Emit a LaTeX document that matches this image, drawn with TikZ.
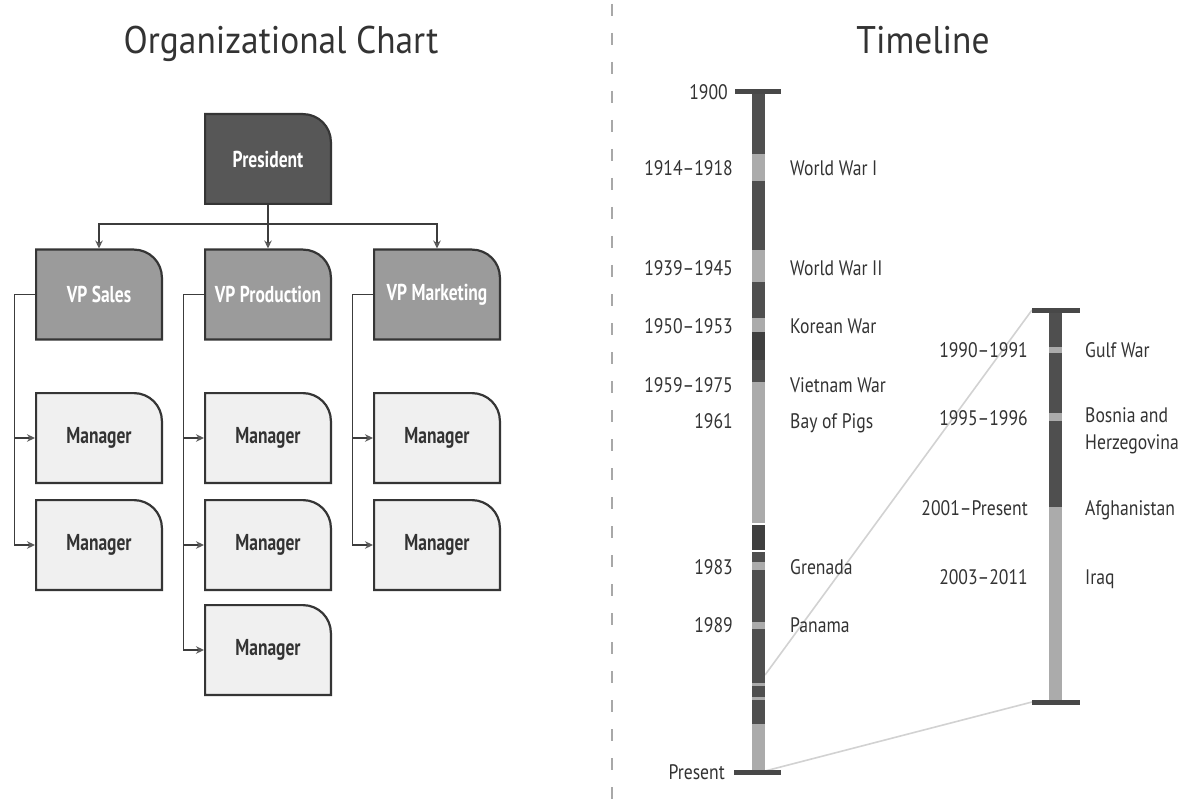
\documentclass[tikz,border=0pt]{standalone}
\usepackage{fontspec}
\newfontfamily\titlefont[FakeStretch=0.92]{PT Sans}
\newfontfamily\cardfont[FakeStretch=0.76]{PT Sans}
\newfontfamily\labelfont[FakeStretch=0.84]{PT Sans}
\usetikzlibrary{arrows.meta}

\definecolor{boxline}{HTML}{353535}
\definecolor{presgray}{HTML}{575757}
\definecolor{vpgray}{HTML}{9B9B9B}
\definecolor{mgrgray}{HTML}{F0F0F0}
\definecolor{inkgray}{HTML}{333333}
\definecolor{linkgray}{HTML}{3C3C3C}
\definecolor{tipgray}{HTML}{5A5A5A}
\definecolor{bardark}{HTML}{4F4F4F}
\definecolor{bardarker}{HTML}{3F3F3F}
\definecolor{barlight}{HTML}{ABABAB}
\definecolor{capgray}{HTML}{484848}
\definecolor{zoomgray}{HTML}{D2D2D2}
\definecolor{sepgray}{HTML}{A8A8A8}

\begin{document}
\begin{tikzpicture}[x=1pt, y=-1pt,
  card/.style={minimum width=128pt, minimum height=92pt, inner sep=0pt, outer sep=0pt,
    font=\cardfont\bfseries\fontsize{23}{26}\selectfont,
    path picture={\draw[draw=boxline, line width=2.2pt, fill=#1]
      ([shift={(1.1pt,1.1pt)}]path picture bounding box.south west)
      |- ([shift={(-29pt,-1.1pt)}]path picture bounding box.north east)
      arc[start angle=90, end angle=0, radius=27.9pt]
      -- ([shift={(-1.1pt,1.1pt)}]path picture bounding box.south east) -- cycle;}},
  pres/.style={card=presgray, text=white},
  vpbox/.style={card=vpgray, text=white},
  mgr/.style={card=mgrgray, text=inkgray},
  link/.style={draw=linkgray, line width=1.9pt,
    -{Stealth[length=8pt, width=7.5pt, color=tipgray]}},
  charttitle/.style={anchor=base, inner sep=0pt, text=inkgray,
    font=\titlefont\fontsize{38.5}{42}\selectfont},
  yearlbl/.style={anchor=east, inner sep=0pt, text height=14.5pt, text depth=0pt,
    text=inkgray, font=\labelfont\fontsize{21}{27}\selectfont},
  eventlbl/.style={yearlbl, anchor=west},
  barcap/.style={draw=capgray, line width=5pt},
  zoomline/.style={draw=zoomgray, line width=1.6pt}]
  \fill[white] (0,0) rectangle (1180,802);
  \useasboundingbox (0,0) rectangle (1180,802);

  % titles
  \node[charttitle] (orgtitle) at (281,54) {Organizational Chart};
  \node[charttitle] (timetitle) at (923,54) {Timeline};

  % separator
  \draw[sepgray, line width=2pt, dash pattern=on 12pt off 17pt] (612,4) -- (612,800);

  % org chart boxes
  \node[pres] (pres) at (268,159) {President};
  \node[vpbox] (vps) at (99,294.5) {VP Sales};
  \node[vpbox] (vpp) at (268,294.5) {VP Production};
  \node[vpbox] (vpm) at (437,294.5) {VP Marketing};
  \node[mgr] (sm1) at (99,438) {Manager};
  \node[mgr] (sm2) at (99,545) {Manager};
  \node[mgr] (pm1) at (268,438) {Manager};
  \node[mgr] (pm2) at (268,545) {Manager};
  \node[mgr] (pm3) at (268,650) {Manager};
  \node[mgr] (mm1) at (437,438) {Manager};
  \node[mgr] (mm2) at (437,545) {Manager};

  % org chart links
  \draw[link] (pres.south) -- ++(0,19) -| (vps.north);
  \draw[link] (pres.south) -- (vpp.north);
  \draw[link] (pres.south) -- ++(0,19) -| (vpm.north);
  \foreach \vp/\m in {vps/sm1, vps/sm2, vpp/pm1, vpp/pm2, vpp/pm3, vpm/mm1, vpm/mm2}
    \draw[link] (\vp.west) -- ++(-20.5,0) |- (\m.west);

  % zoom lines between the two bars
  \coordinate (mainzoom) at (765,675);
  \coordinate (mainend) at (765,771);
  \coordinate (subtop) at (1032,310);
  \coordinate (subend) at (1032,702);
  \draw[zoomline] (mainzoom) -- (subtop);
  \draw[zoomline] (mainend) -- (subend);

  % main bar, 1900 to present
  \foreach \a/\b/\c in {92/154/bardark, 154/181/barlight, 181/250/bardark, 250/282/barlight,
      282/318/bardark, 318/332/barlight, 332/360/bardarker, 360/382/bardark, 382/523/barlight,
      525/550/bardarker, 552/562/bardark, 562/570/barlight, 570/622/bardark, 622/629/barlight,
      629/683/bardark, 683/686/barlight, 686/697/bardark, 697/700/barlight, 700/724/bardark,
      724/772/barlight}
    \fill[\c] (752,\a) rectangle (765,\b);
  \draw[barcap] (735,92) -- (781,92);
  \draw[barcap] (734,772) -- (781,772);

  % detail bar, 1990 to present
  \foreach \a/\b/\c in {310/347/bardark, 347/353/barlight, 353/413/bardark, 413/421/barlight,
      421/507/bardark, 507/702/barlight}
    \fill[\c] (1049,\a) rectangle (1062,\b);
  \draw[barcap] (1032,310) -- (1080,310);
  \draw[barcap] (1032,702) -- (1080,702);

  % labels
  \node[yearlbl] (start) at (728,92) {1900};
  \node[yearlbl] (now) at (725,772) {Present};
  \foreach \y/\yr/\ev in {168/1914–1918/World War I, 268/1939–1945/World War II,
      326/1950–1953/Korean War, 385/1959–1975/Vietnam War, 421/1961/Bay of Pigs,
      567/1983/Grenada, 625/1989/Panama}
  {
    \node[yearlbl] (y\y) at (733,\y) {\yr};
    \node[eventlbl] (e\y) at (790,\y) {\ev};
  }
  \foreach \y/\yr/\ev in {350/1990–1991/Gulf War, 508/2001–Present/Afghanistan, 577/2003–2011/Iraq}
  {
    \node[yearlbl] (y\y) at (1028,\y) {\yr};
    \node[eventlbl] (e\y) at (1085,\y) {\ev};
  }
  \node[yearlbl] (y418) at (1028,418) {1995–1996};
  \node[anchor=north west, inner sep=0pt, align=left, text=inkgray,
    font=\labelfont\fontsize{21}{27}\selectfont] (e418) at (1085,407) {Bosnia and\\Herzegovina};
\end{tikzpicture}
\end{document}
